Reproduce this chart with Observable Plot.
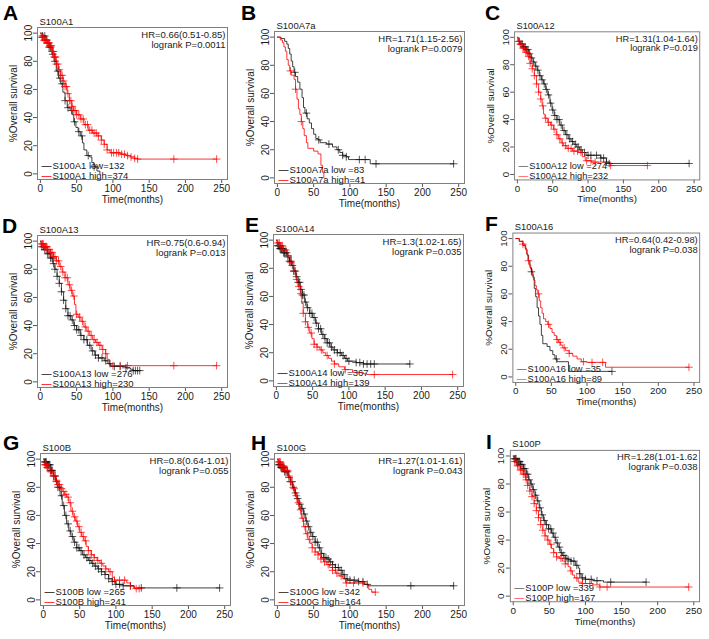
<!DOCTYPE html>
<html><head><meta charset="utf-8">
<script src="https://cdn.jsdelivr.net/npm/d3@7"></script>
<script src="https://cdn.jsdelivr.net/npm/@observablehq/plot@0.6"></script>
<style>
html,body{margin:0;padding:0;background:#fff;overflow:hidden}
#page{position:relative;width:709px;height:639px;overflow:hidden;font-family:"Liberation Sans",Arial,Helvetica,sans-serif}
.panel{position:absolute}
#letters{position:absolute;left:0;top:0}
</style></head><body><div id="page"></div>
<script>
// ---------- data ----------
const panelLetters = ["A","B","C","D","E","F","G","H","I"];
const genes = ["S100A1","S100A7a","S100A12","S100A13","S100A14","S100A16","S100B","S100G","S100P"];
const hrTexts = ["HR=0.66(0.51-0.85)","HR=1.71(1.15-2.56)","HR=1.31(1.04-1.64)","HR=0.75(0.6-0.94)","HR=1.3(1.02-1.65)","HR=0.64(0.42-0.98)","HR=0.8(0.64-1.01)","HR=1.27(1.01-1.61)","HR=1.28(1.01-1.62"];
const pTexts = ["logrank P=0.0011","logrank P=0.0079","logrank P=0.019","logrank P=0.013","logrank P=0.035","logrank P=0.038","logrank P=0.055","logrank P=0.043","logrank P=0.038"];
const lowLabels = ["S100A1 low=132","S100A7a low =83","S100A12 low =274","S100A13 low =276","S100A14 low =367","S100A16 low =35","S100B low =265","S100G low =342","S100P low =339"];
const highLabels = ["S100A1 high=374","S100A7a high=41","S100A12 high=232","S100A13 high=230","S100A14 high=139","S100A16 high=89","S100B high=241","S100G high=164","S100P high=167"];
const xTicks = [0,50,100,150,200,250];
const yTicks = [0,20,40,60,80,100];

// survival curves: [months, % surviving]
const A_low = [[0,100],[3,98],[8,95],[12,90],[16,85],[19,80],[22,73],[25,68],[28,64],[31,58],[34,52],[37,47],[41,45],[44,42],[46,37],[49,33],[52,30],[55,27],[58,22],[60,17],[64,13],[68,12],[71,8],[74,5],[78,2],[82,0]];
const A_high = [[0,100],[1,97],[5,95],[9,93],[13,91],[16,87],[19,83],[22,78],[25,74],[28,70],[31,66],[34,62],[37,57],[40,52],[43,48],[46,45],[50,42],[55,39],[60,35],[66,31],[72,29],[78,27],[84,24],[88,21],[92,17],[96,15],[110,14],[118,13],[124,12],[130,11],[134,10.5],[243,10.5]];
const B_low = [[0,100],[5,99],[10,97],[13,95],[15,92],[17,88],[19,83],[21,79],[23,75],[25,72],[28,68],[31,63],[34,57],[36,50],[38,46],[41,42],[44,39],[47,35],[50,31],[53,28],[56,27],[59,25],[68,24],[76,22],[82,20],[86,18],[90,16],[95,15],[98,13],[125,13],[128,10],[243,10]];
const B_high = [[0,100],[4,98],[7,96],[9,93],[11,90],[13,84],[15,80],[17,76],[19,73],[23,70],[25,63],[27,56],[29,49],[31,45],[33,40],[35,35],[37,30],[40,25],[42,21],[50,19],[56,17],[60,9],[62,4],[64,0]];
const C_low = [[0,100],[1,97],[4,95],[8,93],[12,91],[16,88],[19,85],[22,82],[25,79],[28,76],[31,72],[34,69],[37,66],[40,62],[43,58],[46,52],[49,47],[52,43],[56,40],[60,36],[64,32],[68,29],[72,26],[76,24],[80,22],[84,20],[88,18],[92,16],[97,14],[118,12],[126,9],[130,8],[243,8]];
const C_high = [[0,100],[1,97],[4,95],[8,92],[12,89],[15,86],[18,81],[21,77],[24,72],[27,66],[30,60],[33,55],[35,50],[37,44],[39,41],[43,38],[47,36],[51,33],[55,29],[58,26],[62,23],[65,21],[70,19],[78,17],[86,16],[92,13],[96,10],[105,9],[125,8],[132,6.5],[184,6.5]];
const D_low = [[0,100],[1,96],[5,94],[10,91],[14,88],[17,84],[20,80],[23,75],[26,70],[29,64],[32,58],[35,52],[38,47],[42,44],[46,40],[50,37],[55,33],[60,30],[65,26],[70,22],[75,19],[80,17],[88,15],[93,13],[97,11],[118,10],[124,9],[128,8],[137,8]];
const D_high = [[0,100],[1,98],[5,96],[10,94],[14,92],[18,89],[22,86],[26,82],[30,78],[34,74],[38,69],[41,65],[44,61],[47,55],[49,48],[52,46],[56,43],[60,39],[64,36],[68,33],[72,30],[76,28],[80,26],[85,23],[90,20],[92,16],[95,12],[100,11.5],[243,11.5]];
const E_low = [[0,100],[1,96],[5,94],[10,91],[15,88],[18,85],[21,82],[24,78],[27,74],[30,70],[33,65],[36,61],[39,56],[42,52],[46,48],[50,45],[54,41],[58,37],[62,33],[66,30],[70,27],[74,24],[78,22],[84,20],[90,18],[94,16],[98,14],[110,13],[120,12],[184,12]];
const E_high = [[0,100],[1,98],[6,96],[10,93],[15,89],[20,84],[24,78],[27,72],[30,67],[33,62],[35,55],[37,48],[40,42],[43,38],[46,34],[49,30],[52,26],[56,24],[60,22],[64,20],[68,18],[72,16],[76,14],[80,12],[86,10],[94,8],[105,6],[120,5],[125,4.5],[243,4.5]];
const F_low = [[0,100],[5,98],[10,95],[14,92],[16,88],[18,84],[20,79],[22,76],[24,72],[26,64],[28,58],[30,50],[32,44],[34,38],[36,30],[38,24],[44,22],[48,19],[52,16],[55,13],[58,11],[74,4],[135,4]];
const F_high = [[0,100],[5,98],[10,96],[13,93],[15,89],[17,84],[19,81],[21,78],[23,74],[25,70],[27,66],[29,63],[31,60],[33,55],[35,50],[37,46],[39,42],[42,40],[45,38],[48,35],[51,32],[54,30],[57,27],[60,25],[63,23],[66,21],[70,19],[75,17],[80,15],[86,13],[92,11],[100,10.5],[126,7],[243,7]];
const G_low = [[0,100],[2,98],[5,96],[10,92],[14,88],[17,84],[20,80],[23,74],[26,67],[29,60],[32,54],[35,49],[38,45],[42,41],[46,37],[50,35],[54,32],[58,30],[62,28],[66,26],[70,24],[75,22],[80,20],[85,18],[90,15],[95,13],[100,11],[110,10],[125,8.5],[243,8.5]];
const G_high = [[0,100],[1,96],[5,94],[10,91],[14,88],[17,85],[20,82],[23,79],[26,77],[29,75],[32,73],[35,69],[38,63],[41,59],[44,56],[47,52],[50,48],[53,45],[56,42],[59,38],[62,35],[66,32],[70,30],[74,28],[78,26],[82,24],[86,22],[90,20],[95,16],[98,14],[115,12],[120,10],[125,8],[135,8]];
const H_low = [[0,100],[1,96],[5,94],[10,91],[15,87],[18,84],[21,80],[24,76],[27,72],[30,68],[33,65],[36,61],[39,56],[42,52],[45,48],[48,45],[52,41],[56,37],[60,33],[64,30],[68,29],[72,27],[76,25],[80,23],[85,21],[90,18],[93,15],[97,14],[112,13],[120,11],[125,10],[243,10]];
const H_high = [[0,100],[1,98],[5,95],[10,92],[15,88],[18,84],[21,79],[24,74],[27,69],[30,64],[33,58],[36,52],[39,47],[42,43],[45,40],[48,37],[52,34],[56,32],[60,29],[64,27],[68,25],[72,23],[76,21],[80,19],[85,17],[90,15],[94,12],[120,11],[126,7.5],[130,5.5],[135,5.5]];
const I_low = [[0,100],[1,98],[5,96],[10,94],[14,91],[18,87],[21,83],[24,80],[27,76],[30,72],[33,68],[36,63],[39,58],[42,54],[45,51],[49,48],[53,45],[56,42],[59,38],[62,35],[65,31],[68,29],[72,27],[76,26],[80,25],[86,22],[90,20],[92,16],[94,13],[100,12],[110,11],[125,10],[184,10]];
const I_high = [[0,100],[1,96],[5,93],[10,90],[14,87],[17,83],[20,79],[23,75],[26,71],[29,66],[32,61],[35,56],[38,51],[41,47],[44,43],[47,40],[50,37],[53,34],[56,31],[60,28],[64,27],[68,25],[72,23],[76,21],[79,18],[82,15],[85,13],[90,10],[95,9],[110,8],[120,6.5],[243,6.5]];

// censoring times (months)
const A_lowCens = [3,6,9,12,14,17,20,24,27,30,34,38,43,47,53,57,66,74];
const A_highCens = [2,3,4,5,6,7,8,9,10,11,12,13,14,15,16,17,18,19,20,21,22,24,26,28,30,32,34,36,38,40,42,44,46,48,50,53,56,59,62,65,68,71,74,77,80,84,88,92,98,101,105,108,112,116,120,125,130,134,184,243];
const B_lowCens = [24,40,57,71,84,90,95,113,121,136,243];
const B_highCens = [18,25,33];
const C_lowCens = [3,5,7,9,11,13,15,17,20,23,26,29,32,35,38,41,44,47,50,53,56,59,62,66,70,74,78,82,86,90,95,100,104,112,118,122,126,130,243];
const C_highCens = [2,4,6,8,10,12,14,16,18,21,24,27,30,33,36,40,44,48,52,56,60,64,68,72,76,80,85,90,98,104,110,132,184];
const D_lowCens = [2,4,6,8,10,12,14,16,18,20,23,26,29,32,35,38,41,44,47,50,53,56,60,64,68,72,76,80,85,90,96,102,110,118,128,131,134,137];
const D_highCens = [2,3,4,5,6,7,8,9,10,12,14,16,18,20,22,25,28,31,34,37,40,43,46,50,54,58,62,66,70,74,78,82,86,90,100,110,120,184,243];
const E_lowCens = [2,3,4,5,6,7,8,9,10,11,12,14,16,18,20,22,24,26,28,30,32,34,36,38,40,43,46,49,52,55,58,61,64,67,70,73,76,80,84,88,92,96,100,110,115,120,125,130,135,184];
const E_highCens = [2,4,6,8,10,13,16,20,24,28,31,34,37,40,44,48,52,56,62,70,80,95,135,243];
const F_lowCens = [22,57,135];
const F_highCens = [10,18,32,46,58,62,68,75,95,107,122,243];
const G_lowCens = [2,3,4,5,6,7,8,9,10,11,12,14,16,18,20,22,25,28,31,34,37,40,43,46,49,52,56,60,64,68,72,76,80,85,90,95,100,105,110,120,135,184,243];
const G_highCens = [2,3,4,5,6,8,10,12,14,16,18,20,22,25,28,31,34,37,40,43,46,49,52,55,58,62,66,70,75,80,86,92,98,105,112,120,128,132];
const H_lowCens = [2,3,4,5,6,7,8,9,10,12,14,16,18,20,22,25,28,31,34,37,40,43,46,49,52,55,58,61,64,67,70,73,76,80,84,88,92,96,100,106,112,118,124,184,243];
const H_highCens = [2,3,4,5,6,7,8,9,10,12,14,16,18,20,23,26,29,32,35,38,41,44,48,52,56,60,65,70,76,82,88,95,105,118,135];
const I_lowCens = [2,3,4,5,6,7,8,9,10,12,14,16,18,20,22,25,28,31,34,37,40,43,46,49,52,55,58,61,64,67,70,73,76,80,84,88,92,96,100,108,116,135,184];
const I_highCens = [2,4,6,8,10,12,14,16,18,20,23,26,29,32,35,38,41,44,48,52,56,60,66,72,80,88,96,106,120,130,243];

const lowCurves = [A_low,B_low,C_low,D_low,E_low,F_low,G_low,H_low,I_low];
const highCurves = [A_high,B_high,C_high,D_high,E_high,F_high,G_high,H_high,I_high];
const lowCens = [A_lowCens,B_lowCens,C_lowCens,D_lowCens,E_lowCens,F_lowCens,G_lowCens,H_lowCens,I_lowCens];
const highCens = [A_highCens,B_highCens,C_highCens,D_highCens,E_highCens,F_highCens,G_highCens,H_highCens,I_highCens];

// ---------- layout (not data) ----------
const panelPos = [[0,0],[237,4],[478,5],[0,208],[236,207],[476,206],[3,426],[237,426],[473,423]];
const letterPos = [[3,20],[241,20],[485,20],[2,233],[245,232],[485,231],[3,450],[251,450],[486,449]];
const FONT = '"Liberation Sans", Arial, Helvetica, sans-serif';
const TXT = "#1a1a1a";

function stepValue(curve, t) {
  let v = curve[0][1];
  for (const [ct, cs] of curve) { if (ct <= t) v = cs; else break; }
  return v;
}

const page = document.getElementById("page");

for (let i = 0; i < 9; i++) {
  const low = lowCurves[i].map(([t, s]) => ({t, s}));
  const high = highCurves[i].map(([t, s]) => ({t, s}));
  const lowC = lowCens[i].map(t => ({t, s: stepValue(lowCurves[i], t)}));
  const highC = highCens[i].map(t => ({t, s: stepValue(highCurves[i], t)}));
  const chart = Plot.plot({
    width: 237, height: 213,
    marginLeft: 37, marginTop: 27, marginRight: 10, marginBottom: 34,
    x: {domain: [-4, 258]},
    y: {domain: [-4, 104]},
    style: {fontFamily: FONT, fontSize: "10px", color: TXT, background: "transparent", overflow: "visible"},
    marks: [
      Plot.axisX(xTicks, {tickSize: 4, tickPadding: 1, fontSize: 10, stroke: "#555",
        label: "Time(months)", labelAnchor: "center", labelArrow: "none", labelOffset: 23}),
      Plot.axisY(yTicks, {tickSize: 4, tickPadding: 2, tickRotate: -90, fontSize: 10, stroke: "#555",
        label: "%Overall survival", labelAnchor: "center", labelArrow: "none", labelOffset: 28}),
      Plot.frame({stroke: "#808080", strokeWidth: 1}),
      Plot.line(low, {x: "t", y: "s", curve: "step-after", stroke: "#111", strokeWidth: 0.8}),
      Plot.line(high, {x: "t", y: "s", curve: "step-after", stroke: "#ff0000", strokeWidth: 0.8}),
      Plot.dot(lowC, {x: "t", y: "s", symbol: "plus", r: 2.6, stroke: "#111", strokeWidth: 0.7}),
      Plot.dot(highC, {x: "t", y: "s", symbol: "plus", r: 2.6, stroke: "#ff0000", strokeWidth: 0.7}),
      Plot.text([genes[i]], {text: d => d, frameAnchor: "top-left", textAnchor: "start", lineAnchor: "bottom", dx: 2, dy: -3, fontSize: 9.5, fill: TXT}),
      Plot.text([hrTexts[i] + "\n" + pTexts[i]], {text: d => d, frameAnchor: "top-right", textAnchor: "end", lineAnchor: "top", dx: -2, dy: 3, fontSize: 9.5, lineHeight: 1.05, fill: TXT}),
      Plot.text(["\u2014"], {text: d => d, frameAnchor: "bottom-left", textAnchor: "start", lineAnchor: "middle", dx: 4, dy: -14, fontSize: 10, fill: "#111"}),
      Plot.text(["\u2014"], {text: d => d, frameAnchor: "bottom-left", textAnchor: "start", lineAnchor: "middle", dx: 4, dy: -4, fontSize: 10, fill: "#ff0000"}),
      Plot.text([lowLabels[i]], {text: d => d, frameAnchor: "bottom-left", textAnchor: "start", lineAnchor: "middle", dx: 15, dy: -14, fontSize: 9.5, fill: TXT}),
      Plot.text([highLabels[i]], {text: d => d, frameAnchor: "bottom-left", textAnchor: "start", lineAnchor: "middle", dx: 15, dy: -4, fontSize: 9.5, fill: TXT})
    ]
  });
  const wrap = document.createElement("div");
  wrap.className = "panel";
  wrap.style.left = panelPos[i][0] + "px";
  wrap.style.top = panelPos[i][1] + "px";
  wrap.appendChild(chart);
  page.appendChild(wrap);
}

// panel letters
const svg = d3.select(page).append("svg").attr("id", "letters").attr("width", 709).attr("height", 639);
svg.selectAll("text").data(panelLetters).join("text")
  .attr("x", (d, i) => letterPos[i][0]).attr("y", (d, i) => letterPos[i][1])
  .attr("font-family", FONT).attr("font-weight", "bold").attr("font-size", 21).attr("fill", "#000")
  .text(d => d);
</script></body></html>
